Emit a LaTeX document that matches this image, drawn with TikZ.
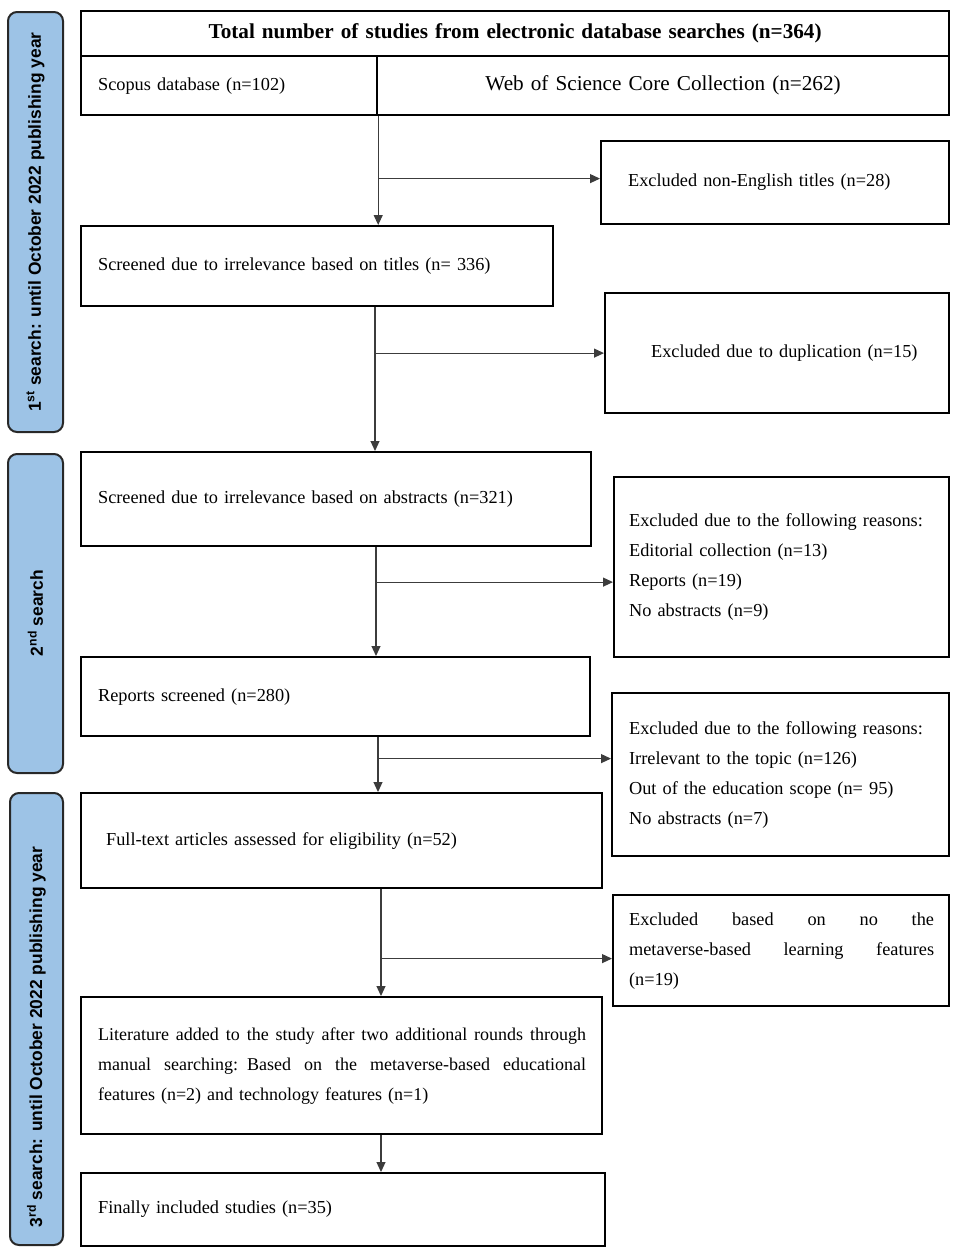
\documentclass[tikz,border=0pt]{standalone}
\usepackage{fontspec}
\setmainfont{Liberation Serif}
\newfontfamily\barfont{Liberation Sans}
\usetikzlibrary{arrows.meta,calc}
\definecolor{barblue}{RGB}{157,195,230}
\definecolor{barline}{RGB}{40,40,40}
\definecolor{connc}{RGB}{60,60,60}
\newcommand\jline[2]{\leavevmode\hbox to #1{\spaceskip=0pt plus 1fil\relax #2}}
\begin{document}
\begin{tikzpicture}[x=1pt,y=-1pt,
  box/.style={draw=black, line width=2.2pt, anchor=north west, inner ysep=0pt, align=left,
    font=\fontsize{18.3}{30}\selectfont},
  barbox/.style={draw=barline, line width=2pt, fill=barblue, rounded corners=9pt},
  bartext/.style={rotate=90, font=\barfont\bfseries\fontsize{17.4}{20}\selectfont, inner sep=0pt},
  conn/.style={draw=connc, line width=1.1pt},
  arr/.style={conn, -{Triangle[length=10pt,width=9pt]}}]
\useasboundingbox (0,0) rectangle (962,1259);
\fill[white] (0,0) rectangle (962,1259);

% side bars
\path[barbox] (8,12) rectangle (63,432);
\path[barbox] (8,454) rectangle (63,773);
\path[barbox] (10,793) rectangle (63,1245);
\node[bartext] (bt1) at (35.5,222) {1\textsuperscript{st} search: until October 2022 publishing year};
\node[bartext] (bt2) at (35.5,613) {2\textsuperscript{nd} search};
\node[bartext] (bt3) at (36.5,1037) {3\textsuperscript{rd} search: until October 2022 publishing year};

% main boxes
\node[box, minimum width=868pt, minimum height=45pt, inner xsep=0pt, text width=868pt, align=center,
  font=\bfseries\fontsize{21.2}{22}\selectfont] (total) at (80,10)
  {Total number of studies from electronic database searches (n=364)};
\node[box, minimum width=296pt, minimum height=59pt, inner xsep=17pt, text width=262pt] (scopus) at (80,55)
  {Scopus database (n=102)};
\node[box, minimum width=572pt, minimum height=59pt, inner xsep=0pt, text width=572pt, align=center,
  font=\fontsize{21.2}{22}\selectfont] (wos) at (376,55)
  {Web of Science Core Collection (n=262)};
\node[box, minimum width=348pt, minimum height=83pt, inner xsep=27pt, text width=294pt] (noneng) at (600,140)
  {Excluded non-English titles (n=28)};
\node[box, minimum width=472pt, minimum height=80pt, inner xsep=17pt, text width=438pt] (titles) at (80,225)
  {Screened due to irrelevance based on titles (n= 336)};
\node[box, minimum width=344pt, minimum height=120pt, inner xsep=10pt, text width=324pt] (dup) at (604,292)
  {\hspace*{36pt}Excluded due to duplication (n=15)};
\node[box, minimum width=510pt, minimum height=94pt, inner xsep=17pt, text width=476pt] (abstracts) at (80,451)
  {Screened due to irrelevance based on abstracts (n=321)};
\node[box, minimum width=335pt, minimum height=180pt, inner xsep=15pt, text width=305pt] (excl2) at (613,476)
  {Excluded due to the following reasons:\\Editorial collection (n=13)\\Reports (n=19)\\No abstracts (n=9)};
\node[box, minimum width=509pt, minimum height=79pt, inner xsep=17pt, text width=475pt] (reports) at (80,656)
  {Reports screened (n=280)};
\node[box, minimum width=337pt, minimum height=163pt, inner xsep=17pt, text width=303pt] (excl3) at (611,692)
  {Excluded due to the following reasons:\\Irrelevant to the topic (n=126)\\Out of the education scope (n= 95)\\No abstracts (n=7)};
\node[box, minimum width=521pt, minimum height=95pt, inner xsep=25pt, text width=471pt] (fulltext) at (80,792)
  {Full-text articles assessed for eligibility (n=52)};
\node[box, minimum width=336pt, minimum height=111pt, inner xsep=16pt, text width=304pt] (excl4) at (612,894)
  {\jline{305pt}{Excluded based on no the}\\\jline{305pt}{metaverse-based learning features}\\(n=19)};
\node[box, minimum width=521pt, minimum height=137pt, inner xsep=17pt, text width=487pt,
  font=\fontsize{18}{30}\selectfont] (lit) at (80,996)
  {\jline{488pt}{Literature added to the study after two additional rounds through}\\
   \jline{488pt}{manual searching: Based on the metaverse-based educational}\\
   features (n=2) and technology features (n=1)};
\node[box, minimum width=524pt, minimum height=73pt, inner xsep=17pt, text width=490pt] (final) at (80,1172)
  {Finally included studies (n=35)};

% connectors
\coordinate (j0) at (scopus.south east);
\coordinate (b0) at ([yshift=4pt]noneng.west);
\draw[arr] (j0) -- (titles.north -| j0);
\draw[arr] (j0 |- b0) -- (b0);

\coordinate (j1) at ([xshift=295pt]titles.south west);
\draw[arr] (j1) -- (abstracts.north -| j1);
\draw[arr] (j1 |- dup.west) -- (dup.west);

\coordinate (j2) at ([xshift=296pt]abstracts.south west);
\coordinate (b2) at ([yshift=-15pt]excl2.west);
\draw[arr] (j2) -- (reports.north -| j2);
\draw[arr] (j2 |- b2) -- (b2);

\coordinate (j3) at ([xshift=298pt]reports.south west);
\coordinate (b3) at ([yshift=16pt]excl3.west);
\draw[arr] (j3) -- (fulltext.north -| j3);
\draw[arr] (j3 |- b3) -- (b3);

\coordinate (j4) at ([xshift=301pt]fulltext.south west);
\coordinate (b4) at ([yshift=-8pt]excl4.west);
\draw[arr] (j4) -- (lit.north -| j4);
\draw[arr] (j4 |- b4) -- (b4);

\coordinate (j5) at ([xshift=301pt]lit.south west);
\draw[arr] (j5) -- (final.north -| j5);
\end{tikzpicture}
\end{document}
